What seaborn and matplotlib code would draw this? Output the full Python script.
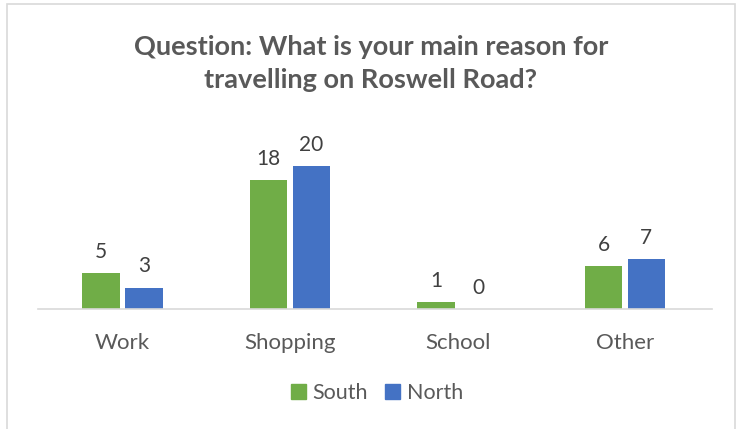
import matplotlib
matplotlib.use("Agg")
import matplotlib.pyplot as plt
import seaborn as sns
import pandas as pd
from matplotlib.patches import Rectangle

categories = ["Work", "Shopping", "School", "Other"]
series = ["South", "North"]
south = [5, 18, 1, 6]
north = [3, 20, 0, 7]
colors = {"South": "#70AD47", "North": "#4472C4"}

df = pd.DataFrame({
    "Reason": categories * 2,
    "Series": ["South"] * 4 + ["North"] * 4,
    "Count": south + north,
})

sns.set_theme(style="white")
plt.rcParams["font.family"] = ["Lato", "DejaVu Sans"]

fig = plt.figure(figsize=(7.42, 4.29), dpi=100)
fig.patch.set_facecolor("white")
fig.patches.append(Rectangle((7 / 742, -0.05), 728 / 742, 1 - 4 / 429 + 0.05,
                             transform=fig.transFigure, fill=False,
                             edgecolor="#D9D9D9", linewidth=1.2))

ax_left, ax_right, ax_base = 38.75, 708.75, 309.0
ax = fig.add_axes([ax_left / 742, (429 - ax_base) / 429,
                   (ax_right - ax_left) / 742, 24 * 7.14 / 429])
sns.barplot(data=df, x="Reason", y="Count", hue="Series", order=categories,
            hue_order=series, palette=colors, width=0.508, gap=0.118,
            legend=False, ax=ax, saturation=1, linewidth=0)

for cont in ax.containers:
    ax.bar_label(cont, padding=8, fontsize=15, color="#404040")

ax.set_ylim(0, 24)
ax.set_xlim(-0.5, 3.5)
ax.set_xlabel("")
ax.set_ylabel("")
ax.set_yticks([])
for s in ["top", "right", "left"]:
    ax.spines[s].set_visible(False)
ax.spines["bottom"].set_color("#D9D9D9")
ax.spines["bottom"].set_linewidth(1.2)
ax.spines["bottom"].set_bounds(-0.5 - 0.5 / 167.5 * 1, 3.5 + 3 / 167.5)
ax.tick_params(axis="x", length=0, pad=17, labelsize=16, labelcolor="#595959")
ax.patch.set_alpha(0)

fig.text(0.5, 1 - 47 / 429, "Question: What is your main reason for",
         ha="center", va="center", fontsize=19.5, fontweight="bold", color="#595959")
fig.text(0.5, 1 - 80 / 429, "travelling on Roswell Road?",
         ha="center", va="center", fontsize=19.5, fontweight="bold", color="#595959")

handles = [Rectangle((0, 0), 1, 1, color=colors[s]) for s in series]
fig.legend(handles, series, loc="center", bbox_to_anchor=(377 / 742, 1 - 393 / 429),
           ncol=2, frameon=False, fontsize=15.5, labelcolor="#595959",
           handlelength=0.7, handleheight=0.7, handletextpad=0.3, columnspacing=0.8)

fig.savefig("out.png", dpi=100)
